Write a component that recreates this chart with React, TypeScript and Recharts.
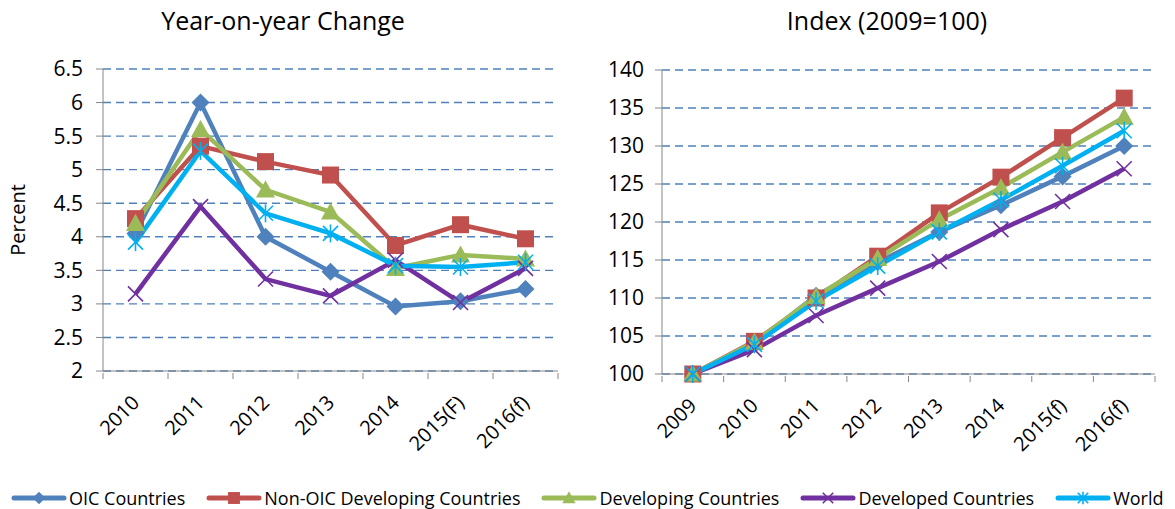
import React from 'react';
import { LineChart, Line, XAxis, YAxis, CartesianGrid } from 'recharts';

const yoyYears = ['2010', '2011', '2012', '2013', '2014', '2015(F)', '2016(f)'];
const indexYears = ['2009', '2010', '2011', '2012', '2013', '2014', '2015(f)', '2016(f)'];

const yoyOic = [4.05, 6.0, 4.0, 3.48, 2.96, 3.04, 3.22];
const yoyNonOic = [4.27, 5.35, 5.12, 4.92, 3.87, 4.18, 3.97];
const yoyDeveloping = [4.2, 5.6, 4.7, 4.37, 3.53, 3.73, 3.67];
const yoyDeveloped = [3.15, 4.45, 3.37, 3.12, 3.65, 3.02, 3.53];
const yoyWorld = [3.92, 5.28, 4.35, 4.05, 3.57, 3.55, 3.62];

const idxOic = [100, 104.0, 110.3, 114.7, 118.7, 122.2, 126.0, 130.0];
const idxNonOic = [100, 104.3, 110.0, 115.5, 121.2, 125.9, 131.1, 136.3];
const idxDeveloping = [100, 104.2, 110.2, 115.2, 120.3, 124.5, 129.2, 133.8];
const idxDeveloped = [100, 103.2, 107.7, 111.3, 114.8, 119.0, 122.7, 127.0];
const idxWorld = [100, 103.9, 109.6, 114.2, 118.7, 122.9, 127.4, 132.0];

const yoyTicks = [2, 2.5, 3, 3.5, 4, 4.5, 5, 5.5, 6, 6.5];
const idxTicks = [100, 105, 110, 115, 120, 125, 130, 135, 140];

const FONT = '"Open Sans", sans-serif';
const AXIS = '#868686';

const series = [
  { key: 'oic', name: 'OIC Countries', color: '#4F81BD', shape: 'diamond' },
  { key: 'nonOic', name: 'Non-OIC Developing Countries', color: '#C0504D', shape: 'square' },
  { key: 'developing', name: 'Developing Countries', color: '#9BBB59', shape: 'triangle' },
  { key: 'developed', name: 'Developed Countries', color: '#7030A0', shape: 'x' },
  { key: 'world', name: 'World', color: '#00B0F0', shape: 'star' },
];

const yoyData = yoyYears.map((year, i) => ({
  year,
  oic: yoyOic[i],
  nonOic: yoyNonOic[i],
  developing: yoyDeveloping[i],
  developed: yoyDeveloped[i],
  world: yoyWorld[i],
}));

const idxData = indexYears.map((year, i) => ({
  year,
  oic: idxOic[i],
  nonOic: idxNonOic[i],
  developing: idxDeveloping[i],
  developed: idxDeveloped[i],
  world: idxWorld[i],
}));

const Marker = ({ cx, cy, shape, color, s = 1 }) => {
  if (cx == null || cy == null) return null;
  if (shape === 'diamond') {
    const r = 9 * s;
    return <polygon points={`${cx},${cy - r} ${cx + r},${cy} ${cx},${cy + r} ${cx - r},${cy}`} fill={color} />;
  }
  if (shape === 'square') {
    const r = 8.5 * s;
    return <rect x={cx - r} y={cy - r} width={2 * r} height={2 * r} fill={color} />;
  }
  if (shape === 'triangle') {
    const r = 9.5 * s;
    return <polygon points={`${cx},${cy - r} ${cx + r},${cy + r * 0.8} ${cx - r},${cy + r * 0.8}`} fill={color} />;
  }
  const r = 7.5 * s;
  return (
    <g stroke={color} strokeWidth={1.6}>
      <line x1={cx - r} y1={cy - r} x2={cx + r} y2={cy + r} />
      <line x1={cx - r} y1={cy + r} x2={cx + r} y2={cy - r} />
      {shape === 'star' && <line x1={cx} y1={cy - r * 1.2} x2={cx} y2={cy + r * 1.2} />}
    </g>
  );
};

const makeDot = (shape, color) => (p) => (
  <Marker key={`dot-${p.index}`} cx={p.cx} cy={p.cy} shape={shape} color={color} />
);

const makeTick = (bw, count) => (props) => {
  const { x, y, payload, index } = props;
  const tx = x + 5;
  const ty = y + 31;
  return (
    <g>
      <line x1={x - bw / 2} y1={y} x2={x - bw / 2} y2={y + 6} stroke={AXIS} />
      {index === count - 1 && <line x1={x + bw / 2} y1={y} x2={x + bw / 2} y2={y + 6} stroke={AXIS} />}
      <text
        x={tx}
        y={ty}
        transform={`rotate(-45, ${tx}, ${ty})`}
        textAnchor="end"
        fontSize={20}
        fontFamily={FONT}
        fill="#000"
      >
        {payload.value}
      </text>
    </g>
  );
};

const renderLines = () =>
  series.map((s) => (
    <Line
      key={s.key}
      dataKey={s.key}
      name={s.name}
      type="linear"
      stroke={s.color}
      strokeWidth={4.5}
      dot={makeDot(s.shape, s.color)}
      activeDot={false}
      isAnimationActive={false}
    />
  ));

const title = (text, left, width) => (
  <div
    style={{
      position: 'absolute',
      left,
      top: 3,
      width,
      textAlign: 'center',
      fontFamily: FONT,
      fontSize: 25,
      color: '#000',
    }}
  >
    {text}
  </div>
);

const Legend = () => (
  <div style={{ position: 'absolute', left: 11, top: 486, display: 'flex', alignItems: 'center', gap: 21, fontFamily: FONT, fontSize: 18, color: '#000', whiteSpace: 'nowrap' }}>
    {series.map((s) => (
      <div key={s.key} style={{ display: 'flex', alignItems: 'center' }}>
        <svg width={56} height={22}>
          <line x1={3} y1={11} x2={53} y2={11} stroke={s.color} strokeWidth={5} strokeLinecap="round" />
          <Marker cx={28} cy={11} shape={s.shape} color={s.color} s={0.7} />
        </svg>
        <span style={{ marginLeft: 2 }}>{s.name}</span>
      </div>
    ))}
  </div>
);

const yTick = { fontSize: 21, fontFamily: FONT, fill: '#000' };

export default function App() {
  const leftBw = 65;
  const rightBw = 61.6;
  return (
    <div style={{ position: 'absolute', left: 0, top: 0, width: 1175, height: 509, background: '#fff' }}>
      {title('Year-on-year Change', 103, 360)}
      {title('Index (2009=100)', 662, 450)}
      <div style={{ position: 'absolute', left: 0, top: 0 }}>
        <LineChart width={580} height={470} data={yoyData} margin={{ top: 69, right: 22, left: 0, bottom: 0 }}>
          <CartesianGrid vertical={false} stroke="#4F81BD" strokeDasharray="8 5" strokeWidth={1.4} />
          <XAxis
            dataKey="year"
            height={99}
            stroke={AXIS}
            tickLine={false}
            tickSize={0}
            interval={0}
            padding={{ left: leftBw / 2, right: leftBw / 2 }}
            tick={makeTick(leftBw, yoyYears.length)}
          />
          <YAxis
            width={103}
            domain={[2, 6.5]}
            ticks={yoyTicks}
            stroke={AXIS}
            tickSize={7}
            tickMargin={13}
            tick={yTick}
            interval={0}
            label={{ value: 'Percent', angle: -90, position: 'insideLeft', offset: 18, style: { fontSize: 20, fontFamily: FONT, fill: '#000', textAnchor: 'middle' } }}
          />
          {renderLines()}
        </LineChart>
      </div>
      <div style={{ position: 'absolute', left: 580, top: 0 }}>
        <LineChart width={595} height={470} data={idxData} margin={{ top: 70, right: 20, left: 0, bottom: 0 }}>
          <CartesianGrid vertical={false} stroke="#4F81BD" strokeDasharray="8 5" strokeWidth={1.4} />
          <XAxis
            dataKey="year"
            height={96}
            stroke={AXIS}
            tickLine={false}
            tickSize={0}
            interval={0}
            padding={{ left: rightBw / 2, right: rightBw / 2 }}
            tick={makeTick(rightBw, indexYears.length)}
          />
          <YAxis
            width={82}
            domain={[100, 140]}
            ticks={idxTicks}
            stroke={AXIS}
            tickSize={7}
            tickMargin={11}
            tick={yTick}
            interval={0}
          />
          {renderLines()}
        </LineChart>
      </div>
      <Legend />
    </div>
  );
}
